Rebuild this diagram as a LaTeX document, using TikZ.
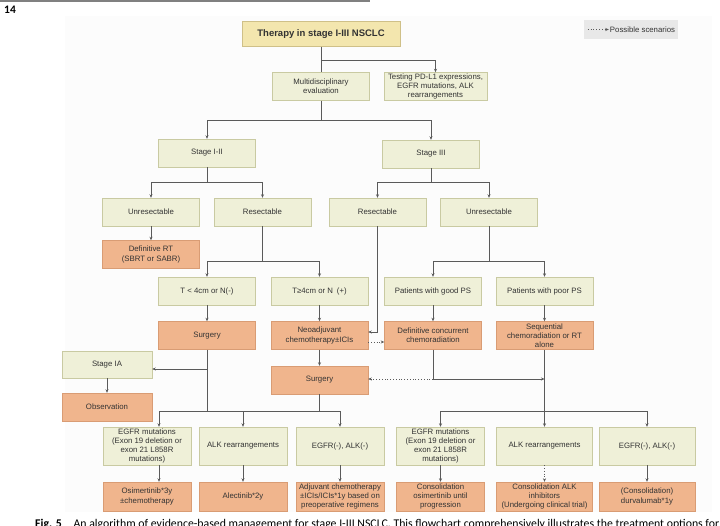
\documentclass[tikz,border=0pt]{standalone}
\usepackage{fontspec}
\setmainfont{Liberation Sans}
\newfontfamily\capfont{Carlito}
\usetikzlibrary{arrows.meta,calc}
\definecolor{condfill}{HTML}{EFF0D8}
\definecolor{condline}{HTML}{C9CAA2}
\definecolor{treatfill}{HTML}{F0B58D}
\definecolor{treatline}{HTML}{D99C74}
\definecolor{titlefill}{HTML}{F3E6AE}
\definecolor{titleline}{HTML}{CFC088}
\definecolor{linegray}{HTML}{5A5A5A}
\definecolor{textgray}{HTML}{333333}
\definecolor{legendfill}{HTML}{E8E8E8}
\definecolor{panelbg}{HTML}{FCFCFC}
\newcommand\boxfont{\fontsize{7.8pt}{9.2pt}\selectfont}

\begin{document}
\begin{tikzpicture}[x=1pt, y=-1pt, >=Stealth,
    cond/.style={draw=condline, fill=condfill, text=textgray, minimum width=97pt,
                 minimum height=28pt, inner sep=1pt, align=center, font=\boxfont},
    treat/.style={cond, draw=treatline, fill=treatfill},
    gene/.style={cond, minimum width=88pt, minimum height=38pt},
    drug/.style={treat, minimum width=88pt, minimum height=29pt},
    arr/.style={draw=linegray, line width=0.8pt, -{Stealth[length=3.5pt,width=3pt]}},
    ln/.style={draw=linegray, line width=0.8pt},
    poss/.style={arr, dotted}]
  \useasboundingbox (0,0) rectangle (720,526);
  %% Page
  \fill[panelbg] (65,16) rectangle (712,512);
  \draw[gray, line width=1.6pt] (0,0.8) -- (370,0.8);
  \node[font=\capfont\bfseries\fontsize{11.5pt}{13pt}\selectfont, anchor=west, inner sep=0pt] (page) at (4,10) {14};
  %% Title and legend
  \node[cond, draw=titleline, fill=titlefill, minimum width=158pt, minimum height=25pt,
        font=\bfseries\fontsize{9.5pt}{11pt}\selectfont] (title) at (321,34) {Therapy in stage I-III NSCLC};
  \node[fill=legendfill, minimum width=94pt, minimum height=19pt, inner sep=0pt] (legend) at (631,29.5) {};
  \node[anchor=east, font=\boxfont, text=textgray, inner sep=1pt] (legtext) at ([xshift=-2pt]legend.east) {Possible scenarios};
  \coordinate (legtail) at ([xshift=4pt]legend.west);
  \draw[poss] (legtail) -- (legtext.west);
  %% Work-up
  \node[cond] (multi) at (321,86.5) {Multidisciplinary\\evaluation};
  \node[cond, minimum width=103pt] (test) at (435.5,86.5) {Testing PD-L1 expressions,\\EGFR mutations, ALK\\rearrangements};
  %% Stages
  \node[cond] (s12) at (207,153) {Stage I-II};
  \node[cond] (s3) at (431,154) {Stage III};
  \node[cond] (unres1) at (151,212) {Unresectable};
  \node[cond] (res1) at (262.5,212) {Resectable};
  \node[cond] (res3) at (377.5,212) {Resectable};
  \node[cond] (unres3) at (489,212) {Unresectable};
  \node[treat] (defrt) at (151,254.5) {Definitive RT\\(SBRT or SABR)};
  %% Sub-groups
  \node[cond] (tlt) at (207,291) {T < 4cm or N(-)};
  \node[cond] (tge) at (319.5,291) {T≥4cm or N\enspace(+)};
  \node[cond] (good) at (433,291) {Patients with good PS};
  \node[cond] (poor) at (544.5,291) {Patients with poor PS};
  \node[treat] (surg1) at (207,335.5) {Surgery};
  \node[treat] (neo) at (319.5,335.5) {Neoadjuvant\\chemotherapy±ICIs};
  \node[treat] (dcc) at (433,335.5) {Definitive concurrent\\chemoradiation};
  \node[treat] (seq) at (544.5,335.5) {Sequential\\chemoradiation or RT\\alone};
  \node[cond, minimum width=90pt, minimum height=27pt] (stia) at (107,364.5) {Stage IA};
  \node[treat, minimum width=90pt] (obs) at (107,407) {Observation};
  \node[treat] (surg2) at (319.5,380) {Surgery};
  %% Driver genes, left
  \node[gene] (egfr1) at (147,446) {EGFR mutations\\(Exon 19 deletion or\\exon 21 L858R\\mutations)};
  \node[gene] (alk1) at (243,446) {ALK rearrangements};
  \node[gene] (neg1) at (340,446) {EGFR(-), ALK(-)};
  \node[drug] (osi1) at (147,496.5) {Osimertinib*3y\\±chemotherapy};
  \node[drug] (alec) at (243,496.5) {Alectinib*2y};
  \node[drug] (adj) at (340,496.5) {Adjuvant chemotherapy\\±ICIs/ICIs*1y based on\\preoperative regimens};
  %% Driver genes, right
  \node[gene] (egfr3) at (440.5,446) {EGFR mutations\\(Exon 19 deletion or\\exon 21 L858R\\mutations)};
  \node[gene, minimum width=96pt] (alk3) at (544.5,446) {ALK rearrangements};
  \node[gene, minimum width=96pt] (neg3) at (647,446) {EGFR(-), ALK(-)};
  \node[drug] (cons1) at (440.5,496.5) {Consolidation\\osimertinib until\\progression};
  \node[drug, minimum width=96pt] (cons2) at (544.5,496.5) {Consolidation ALK\\inhibitors\\(Undergoing clinical trial)};
  \node[drug, minimum width=96pt] (cons3) at (647,496.5) {(Consolidation)\\durvalumab*1y};
  %% Caption
  \node[anchor=base west, inner sep=0pt, font=\capfont\fontsize{11.8pt}{14pt}\selectfont] (cap) at (35,527)
    {\textbf{Fig. 5}\quad An algorithm of evidence-based management for stage I-III NSCLC. This flowchart comprehensively illustrates the treatment options for};
  %% Connectors
  \coordinate (j0) at (321,60);
  \coordinate (j1) at (321,120);
  \draw[ln] (title.south) -- (multi.north);
  \draw[arr] (j0) -| (test.north);
  \draw[ln] (multi.south) -- (j1);
  \draw[arr] (j1) -| (s12.north);
  \draw[arr] (j1) -| (s3.north);
  \coordinate (j2) at (207,182);
  \coordinate (j3) at (431,182);
  \draw[ln] (s12.south) -- (j2);
  \draw[arr] (j2) -| (unres1.north);
  \draw[arr] (j2) -| (res1.north);
  \draw[ln] (s3.south) -- (j3);
  \draw[arr] (j3) -| (res3.north);
  \draw[arr] (j3) -| (unres3.north);
  \draw[arr] (unres1.south) -- (defrt.north);
  \coordinate (j4) at (262.5,261);
  \coordinate (j5) at (489,261);
  \draw[ln] (res1.south) -- (j4);
  \draw[arr] (j4) -| (tlt.north);
  \draw[arr] (j4) -| (tge.north);
  \draw[ln] (unres3.south) -- (j5);
  \draw[arr] (j5) -| (good.north);
  \draw[arr] (j5) -| (poor.north);
  \foreach \a/\b in {tlt/surg1,tge/neo,good/dcc,poor/seq,neo/surg2,stia/obs}
    \draw[arr] (\a.south) -- (\b.north);
  \coordinate (j6) at (377.5,332);
  \draw[arr] (res3.south) -- (j6) -- (j6 -| neo.east);
  \draw[poss] ($(neo.east)+(0,6.5)$) -- ($(dcc.west)+(0,6.5)$);
  \coordinate (j7) at (433,379);
  \draw[ln] (dcc.south) -- (j7);
  \draw[arr] (j7) -- (j7 -| seq.south);
  \draw[poss] (j7) -- (j7 -| surg2.east);
  %% Lower left tree
  \coordinate (j9) at (207,369);
  \coordinate (j10) at (207,411);
  \coordinate (j11) at (319.5,411);
  \coordinate (bl) at (159,411);
  \draw[ln] (surg1.south) -- (j10);
  \draw[arr] (j9) -- (j9 -| stia.east);
  \draw[ln] (surg2.south) -- (j11);
  \draw[ln] (bl) -- (j11 -| neg1.north);
  \draw[arr] (bl) -- (bl |- egfr1.north);
  \draw[arr] (j11 -| alk1.north) -- (alk1.north);
  \draw[arr] (j11 -| neg1.north) -- (neg1.north);
  \draw[arr] (bl |- egfr1.south) -- (bl |- osi1.north);
  \draw[arr] (alk1.south) -- (alec.north);
  \draw[arr] (neg1.south) -- (adj.north);
  %% Lower right tree
  \coordinate (j8) at (544.5,411);
  \draw[ln] (seq.south) -- (j8);
  \draw[ln] (j8 -| egfr3.north) -- (j8 -| neg3.north);
  \foreach \n in {egfr3,alk3,neg3}
    \draw[arr] (j8 -| \n.north) -- (\n.north);
  \draw[arr] (egfr3.south) -- (cons1.north);
  \draw[poss] (alk3.south) -- (cons2.north);
  \draw[arr] (neg3.south) -- (cons3.north);
\end{tikzpicture}
\end{document}
